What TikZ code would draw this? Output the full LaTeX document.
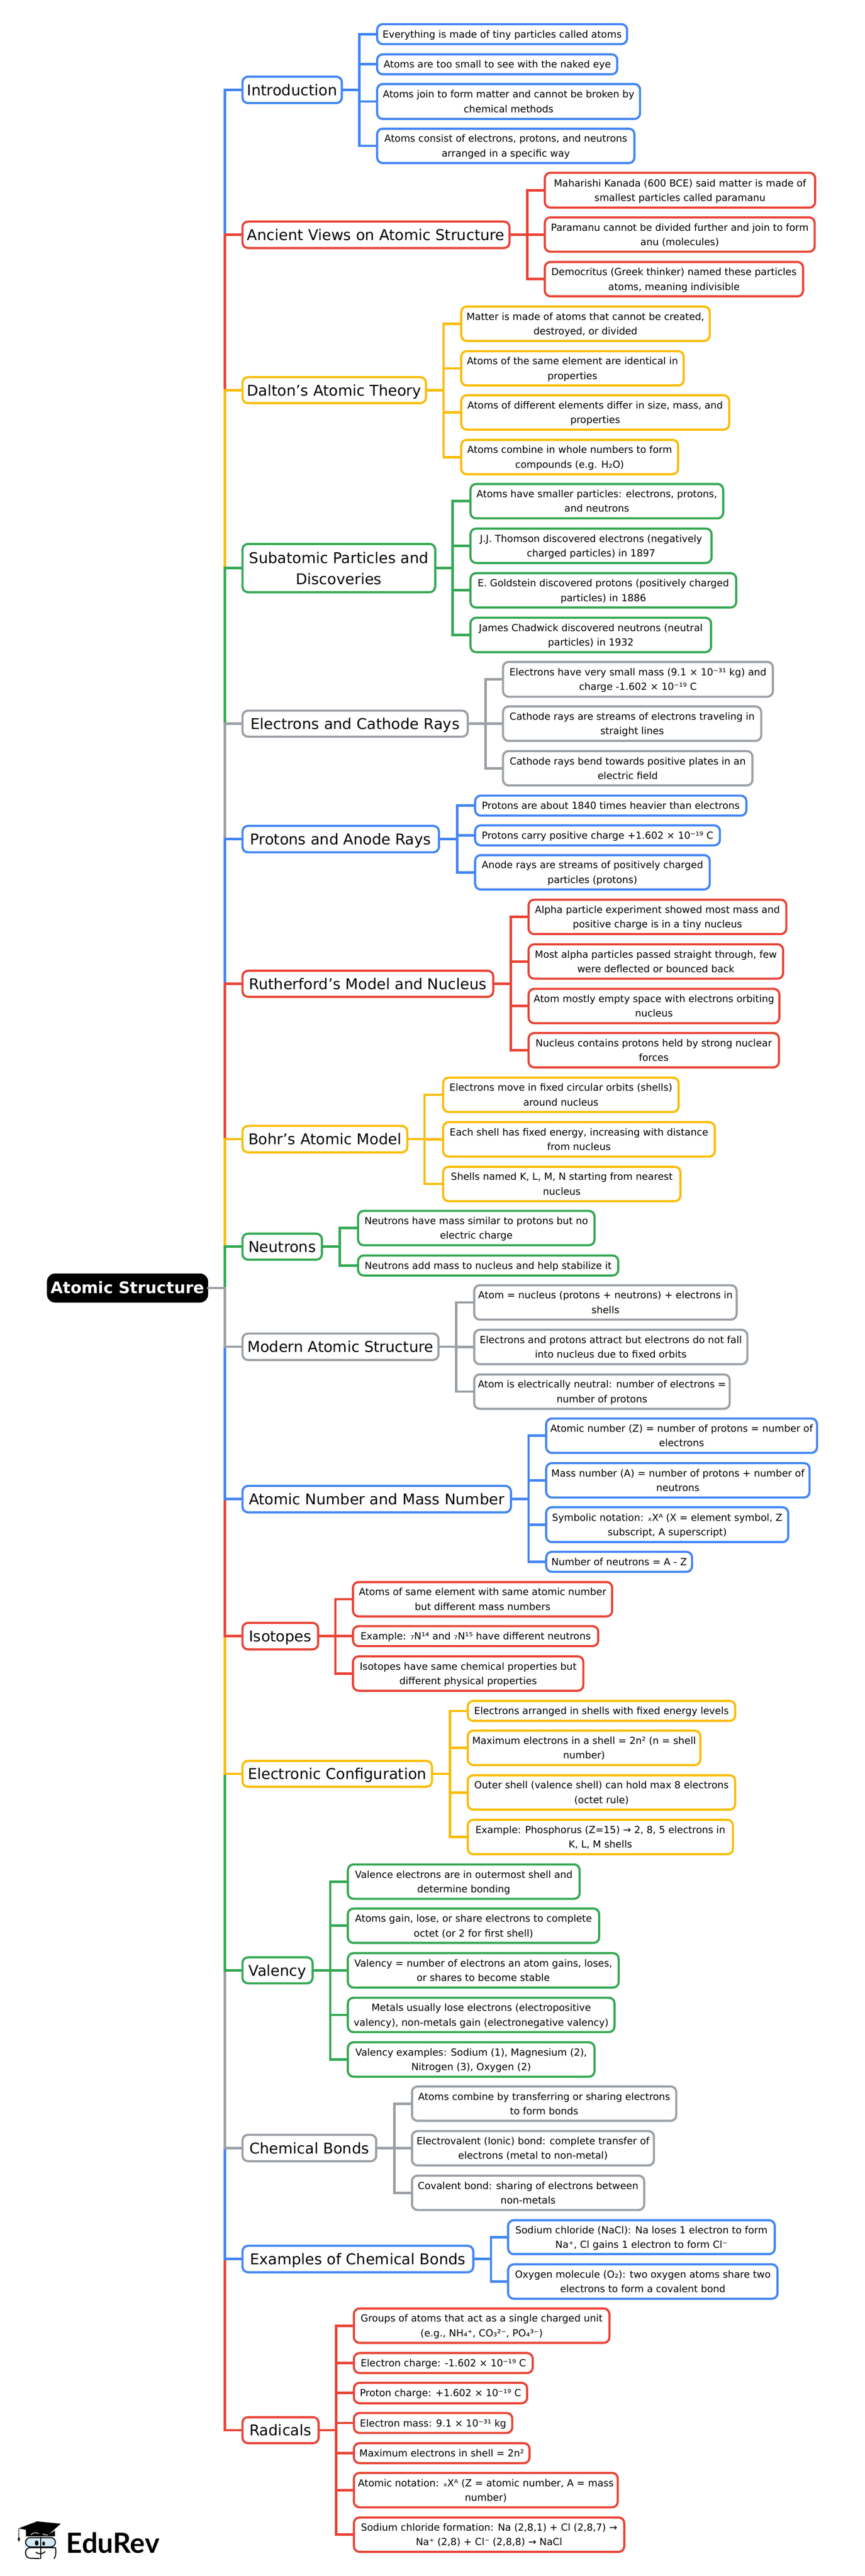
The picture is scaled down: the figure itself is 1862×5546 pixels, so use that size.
\documentclass[tikz,border=0pt]{standalone}
\usepackage{fontspec}
\setmainfont{DejaVu Sans}
\newfontfamily\logofont{Lato}
\definecolor{cblue}{HTML}{4285F4}
\definecolor{cred}{HTML}{EA4335}
\definecolor{cyel}{HTML}{FBBC04}
\definecolor{cgrn}{HTML}{34A853}
\definecolor{cgry}{HTML}{9AA0A6}
\definecolor{cface}{HTML}{D3E7F5}
\newcommand{\txtsh}{0pt}
\newcommand{\firststrut}{\vrule height \dimexpr 0.7\baselineskip+\txtsh\relax depth 0pt width 0pt\relax}
\newcommand{\bx}[7]{\node[#2,minimum width={(#5-#3)*1pt},minimum height={(#6-#4)*1pt}] (#1) at ({(#3+#5)/2},{(#4+#6)/2}) {\firststrut #7\strut};}
\newcommand{\hub}[2]{\coordinate (#1-x) at (#2,0); \coordinate (#1-b) at (#1-x |- #1);}
\newcommand{\grp}[3]{\foreach \i in {1,...,#3}{\draw[conn,#2] (#1.east) -- (#1-b) |- (#1\i.west);}}
\newcommand{\trk}[2]{\draw[conn,#2] (root.east) -- (trunk) |- (#1.west);}
\tikzset{
  x=1pt,y=-1pt,
  box/.style={rectangle,rounded corners=12pt,draw,line width=4.6pt,fill=white,inner sep=0pt,outer sep=0pt,align=center,text=black},
  leaf/.style={box,font=\fontsize{21}{31.4}\selectfont\renewcommand{\txtsh}{3pt}},
  topic/.style={box,font=\fontsize{32}{45.5}\selectfont\renewcommand{\txtsh}{6pt}},
  lb/.style={leaf,draw=cblue},lr/.style={leaf,draw=cred},ly/.style={leaf,draw=cyel},lg/.style={leaf,draw=cgrn},la/.style={leaf,draw=cgry},
  tb/.style={topic,draw=cblue},tr/.style={topic,draw=cred},ty/.style={topic,draw=cyel},tg/.style={topic,draw=cgrn},ta/.style={topic,draw=cgry},
  rootbox/.style={box,rounded corners=15pt,draw=black,fill=black,text=white,font=\fontsize{34.3}{45}\selectfont\bfseries\renewcommand{\txtsh}{6pt}},
  conn/.style={line width=5.3pt,line cap=butt,line join=miter},
  logoline/.style={draw=black,line width=2.2pt,line cap=round,line join=round},
}
\begin{document}
\begin{tikzpicture}
\useasboundingbox (0,0) rectangle (1862,5546);
\fill[white] (0,0) rectangle (1862,5546);
% root
\bx{root}{rootbox}{103.5}{2744}{445.7}{2802}{Atomic Structure}
\coordinate (trunk-x) at (484.3,0);
\coordinate (trunk) at (trunk-x |- root);
% Introduction
\bx{intro}{tb}{522}{165}{736}{222}{Introduction}
\bx{intro1}{lb}{812}{52}{1350}{95}{Everything is made of tiny particles called atoms}
\bx{intro2}{lb}{812}{117}{1329}{160}{Atoms are too small to see with the naked eye}
\bx{intro3}{lb}{812}{181}{1378}{256}{Atoms join to form matter and cannot be broken by\\chemical methods}
\bx{intro4}{lb}{812}{277}{1366}{351}{Atoms consist of electrons, protons, and neutrons\\arranged in a specific way}
% Ancient
\bx{anc}{tr}{522}{477}{1097}{534}{Ancient Views on Atomic Structure}
\bx{anc1}{lr}{1173}{372}{1755}{447}{Maharishi Kanada (600 BCE) said matter is made of\\smallest particles called paramanu}
\bx{anc2}{lr}{1173}{468}{1754}{542}{Paramanu cannot be divided further and join to form\\anu (molecules)}
\bx{anc3}{lr}{1173}{564}{1729}{638}{Democritus (Greek thinker) named these particles\\atoms, meaning indivisible}
% Dalton
\bx{dal}{ty}{522}{812}{917}{868}{Dalton’s Atomic Theory}
\bx{dal1}{ly}{993}{660}{1528}{734}{Matter is made of atoms that cannot be created,\\destroyed, or divided}
\bx{dal2}{ly}{993}{756}{1472}{830}{Atoms of the same element are identical in\\properties}
\bx{dal3}{ly}{993}{851}{1570}{925}{Atoms of different elements differ in size, mass, and\\properties}
\bx{dal4}{ly}{993}{947}{1460}{1021}{Atoms combine in whole numbers to form\\compounds (e.g. H₂O)}
% Subatomic
\bx{sub}{tg}{522}{1171}{937}{1275}{Subatomic Particles and\\Discoveries}
\bx{sub1}{lg}{1013}{1042}{1557}{1116}{Atoms have smaller particles: electrons, protons,\\and neutrons}
\bx{sub2}{lg}{1013}{1138}{1532}{1212}{J.J. Thomson discovered electrons (negatively\\charged particles) in 1897}
\bx{sub3}{lg}{1013}{1234}{1585}{1308}{E. Goldstein discovered protons (positively charged\\particles) in 1886}
\bx{sub4}{lg}{1013}{1330}{1531}{1404}{James Chadwick discovered neutrons (neutral\\particles) in 1932}
% Electrons
\bx{ele}{ta}{522}{1530}{1007}{1586}{Electrons and Cathode Rays}
\bx{ele1}{la}{1083}{1425}{1664}{1500}{Electrons have very small mass (9.1 × 10⁻³¹ kg) and\\charge -1.602 × 10⁻¹⁹ C}
\bx{ele2}{la}{1083}{1521}{1639}{1595}{Cathode rays are streams of electrons traveling in\\straight lines}
\bx{ele3}{la}{1083}{1617}{1620}{1691}{Cathode rays bend towards positive plates in an\\electric field}
% Protons
\bx{pro}{tb}{522}{1778}{945}{1835}{Protons and Anode Rays}
\bx{pro1}{lb}{1023}{1713}{1607}{1756}{Protons are about 1840 times heavier than electrons}
\bx{pro2}{lb}{1023}{1777}{1550}{1820}{Protons carry positive charge +1.602 × 10⁻¹⁹ C}
\bx{pro3}{lb}{1023}{1841}{1528}{1915}{Anode rays are streams of positively charged\\particles (protons)}
% Rutherford
\bx{rut}{tr}{522}{2090}{1062}{2146}{Rutherford’s Model and Nucleus}
\bx{rut1}{lr}{1138}{1937}{1693}{2011}{Alpha particle experiment showed most mass and\\positive charge is in a tiny nucleus}
\bx{rut2}{lr}{1138}{2033}{1686}{2107}{Most alpha particles passed straight through, few\\were deflected or bounced back}
\bx{rut3}{lr}{1138}{2129}{1678}{2203}{Atom mostly empty space with electrons orbiting\\nucleus}
\bx{rut4}{lr}{1138}{2224}{1677}{2298}{Nucleus contains protons held by strong nuclear\\forces}
% Bohr
\bx{boh}{ty}{522}{2424}{877}{2481}{Bohr’s Atomic Model}
\bx{boh1}{ly}{954}{2320}{1461}{2394}{Electrons move in fixed circular orbits (shells)\\around nucleus}
\bx{boh2}{ly}{954}{2416}{1539}{2490}{Each shell has fixed energy, increasing with distance\\from nucleus}
\bx{boh3}{ly}{954}{2512}{1465}{2586}{Shells named K, L, M, N starting from nearest\\nucleus}
% Neutrons
\bx{neu}{tg}{522}{2656}{693}{2712}{Neutrons}
\bx{neu1}{lg}{771}{2607}{1280}{2681}{Neutrons have mass similar to protons but no\\electric charge}
\bx{neu2}{lg}{771}{2703}{1331}{2746}{Neutrons add mass to nucleus and help stabilize it}
% Modern
\bx{mod}{ta}{522}{2871}{944}{2928}{Modern Atomic Structure}
\bx{mod1}{la}{1021}{2767}{1586}{2841}{Atom = nucleus (protons + neutrons) + electrons in\\shells}
\bx{mod2}{la}{1021}{2863}{1609}{2937}{Electrons and protons attract but electrons do not fall\\into nucleus due to fixed orbits}
\bx{mod3}{la}{1021}{2959}{1571}{3033}{Atom is electrically neutral: number of electrons =\\number of protons}
% Atomic Number
\bx{num}{tb}{522}{3199}{1100}{3256}{Atomic Number and Mass Number}
\bx{num1}{lb}{1176}{3054}{1759}{3128}{Atomic number (Z) = number of protons = number of\\electrons}
\bx{num2}{lb}{1176}{3150}{1743}{3224}{Mass number (A) = number of protons + number of\\neutrons}
\bx{num3}{lb}{1176}{3245}{1697}{3320}{Symbolic notation: ₓXᴬ (X = element symbol, Z\\subscript, A superscript)}
\bx{num4}{lb}{1176}{3341}{1490}{3384}{Number of neutrons = A - Z}
% Isotopes
\bx{iso}{tr}{522}{3494}{685}{3551}{Isotopes}
\bx{iso1}{lr}{760}{3406}{1318}{3480}{Atoms of same element with same atomic number\\but different mass numbers}
\bx{iso2}{lr}{760}{3501}{1288}{3544}{Example: ₇N¹⁴ and ₇N¹⁵ have different neutrons}
\bx{iso3}{lr}{760}{3566}{1256}{3640}{Isotopes have same chemical properties but\\different physical properties}
% Electronic Configuration
\bx{cfg}{ty}{522}{3791}{930}{3847}{Electronic Configuration}
\bx{cfg1}{ly}{1007}{3662}{1583}{3705}{Electrons arranged in shells with fixed energy levels}
\bx{cfg2}{ly}{1007}{3726}{1508}{3800}{Maximum electrons in a shell = 2n² (n = shell\\number)}
\bx{cfg3}{ly}{1007}{3822}{1583}{3896}{Outer shell (valence shell) can hold max 8 electrons\\(octet rule)}
\bx{cfg4}{ly}{1007}{3918}{1578}{3992}{Example: Phosphorus (Z=15) → 2, 8, 5 electrons in\\K, L, M shells}
% Valency
\bx{val}{tg}{522}{4214}{673}{4270}{Valency}
\bx{val1}{lg}{749}{4014}{1248}{4088}{Valence electrons are in outermost shell and\\determine bonding}
\bx{val2}{lg}{749}{4109}{1290}{4183}{Atoms gain, lose, or share electrons to complete\\octet (or 2 for first shell)}
\bx{val3}{lg}{749}{4205}{1332}{4279}{Valency = number of electrons an atom gains, loses,\\or shares to become stable}
\bx{val4}{lg}{749}{4301}{1323}{4375}{Metals usually lose electrons (electropositive\\valency), non-metals gain (electronegative valency)}
\bx{val5}{lg}{749}{4397}{1280}{4471}{Valency examples: Sodium (1), Magnesium (2),\\Nitrogen (3), Oxygen (2)}
% Chemical Bonds
\bx{che}{ta}{522}{4596}{810}{4653}{Chemical Bonds}
\bx{che1}{la}{887}{4492}{1456}{4566}{Atoms combine by transferring or sharing electrons\\to form bonds}
\bx{che2}{la}{887}{4588}{1408}{4662}{Electrovalent (Ionic) bond: complete transfer of\\electrons (metal to non-metal)}
\bx{che3}{la}{887}{4684}{1387}{4758}{Covalent bond: sharing of electrons between\\non-metals}
% Examples
\bx{exa}{tb}{522}{4835}{1019}{4892}{Examples of Chemical Bonds}
\bx{exa1}{lb}{1094}{4780}{1668}{4853}{Sodium chloride (NaCl): Na loses 1 electron to form\\Na⁺, Cl gains 1 electron to form Cl⁻}
\bx{exa2}{lb}{1094}{4875}{1674}{4949}{Oxygen molecule (O₂): two oxygen atoms share two\\electrons to form a covalent bond}
% Radicals
\bx{rad}{tr}{522}{5204}{686}{5260}{Radicals}
\bx{rad1}{lr}{762}{4970}{1312}{5044}{Groups of atoms that act as a single charged unit\\(e.g., NH₄⁺, CO₃²⁻, PO₄³⁻)}
\bx{rad2}{lr}{762}{5066}{1147}{5109}{Electron charge: -1.602 × 10⁻¹⁹ C}
\bx{rad3}{lr}{762}{5130}{1135}{5174}{Proton charge: +1.602 × 10⁻¹⁹ C}
\bx{rad4}{lr}{762}{5195}{1103}{5238}{Electron mass: 9.1 × 10⁻³¹ kg}
\bx{rad5}{lr}{762}{5260}{1140}{5303}{Maximum electrons in shell = 2n²}
\bx{rad6}{lr}{762}{5324}{1330}{5398}{Atomic notation: ₓXᴬ (Z = atomic number, A = mass\\number)}
\bx{rad7}{lr}{762}{5420}{1344}{5494}{Sodium chloride formation: Na (2,8,1) + Cl (2,8,7) →\\Na⁺ (2,8) + Cl⁻ (2,8,8) → NaCl}
% hubs
\hub{intro}{774}\hub{anc}{1135}\hub{dal}{955}\hub{sub}{974}\hub{ele}{1045}\hub{pro}{984.5}\hub{rut}{1100}\hub{boh}{914}\hub{neu}{731.5}
\hub{mod}{982}\hub{num}{1138}\hub{iso}{722}\hub{cfg}{969}\hub{val}{711}\hub{che}{849}\hub{exa}{1057}\hub{rad}{724}
% topic-to-leaf connectors
\grp{intro}{cblue}{4}\grp{anc}{cred}{3}\grp{dal}{cyel}{4}\grp{sub}{cgrn}{4}\grp{ele}{cgry}{3}\grp{pro}{cblue}{3}\grp{rut}{cred}{4}\grp{boh}{cyel}{3}\grp{neu}{cgrn}{2}
\grp{mod}{cgry}{3}\grp{num}{cblue}{4}\grp{iso}{cred}{3}\grp{cfg}{cyel}{4}\grp{val}{cgrn}{5}\grp{che}{cgry}{3}\grp{exa}{cblue}{2}\grp{rad}{cred}{7}
% root-to-topic connectors, outermost first
\trk{intro}{cblue}\trk{anc}{cred}\trk{dal}{cyel}\trk{sub}{cgrn}\trk{ele}{cgry}\trk{pro}{cblue}\trk{rut}{cred}\trk{boh}{cyel}\trk{neu}{cgrn}
\trk{rad}{cred}\trk{exa}{cblue}\trk{che}{cgry}\trk{val}{cgrn}\trk{cfg}{cyel}\trk{iso}{cred}\trk{num}{cblue}\trk{mod}{cgry}
% logo
\begin{scope}[shift={(20,5400)},x=0.3333pt,y=-0.3333pt]
\fill[black] (60,130) -- (180,85) -- (332,100) -- (255,170) -- cycle;
\fill[black] (108,138) -- (108,182) -- (295,182) -- (295,145) -- (255,170) -- cycle;
\draw[draw=black,line width=1.6pt] (62,130) -- (62,190);
\fill[black] (62,185) -- (70,198) -- (62,218) -- (54,198) -- cycle;
\draw[white,line width=1.3pt] (140,172) .. controls (155,155) and (175,155) .. (190,165);
\draw[white,line width=1.3pt] (215,165) .. controls (225,172) and (240,175) .. (250,172);
\draw[logoline,fill=cface,rounded corners=10pt] (105,190) rectangle (298,250);
\draw[logoline,rounded corners=10pt] (298,255) -- (105,255) -- (105,322) -- (195,325);
\draw[logoline] (298,255) .. controls (304,280) and (300,310) .. (290,325);
\draw[black,line width=2.6pt] (202,185) -- (202,328);
\fill[black] (177,225) ellipse [x radius=12,y radius=17];
\fill[black] (222,228) ellipse [x radius=9,y radius=13];
\draw[logoline] (172,285) .. controls (190,298) and (215,298) .. (232,280);
\end{scope}
\node[font=\fontsize{60}{60}\selectfont\logofont\bfseries,text=black,anchor=base west,inner sep=0pt,outer sep=0pt] (logotext) at (143,5497) {EduRev};
\end{tikzpicture}
\end{document}
